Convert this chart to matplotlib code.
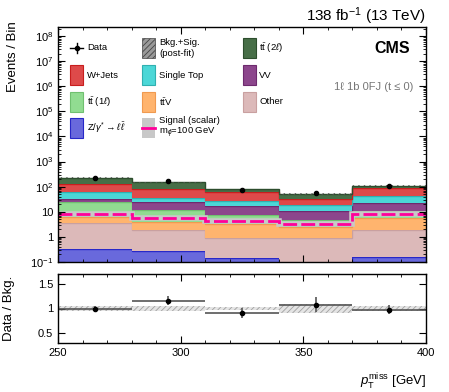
#!/usr/bin/env python3
# stacked pTmiss plot with data/bkg ratio panel

import numpy as np
import matplotlib
matplotlib.use("Agg")
import matplotlib.pyplot as plt
from matplotlib.patches import Rectangle
from matplotlib.lines import Line2D
from matplotlib.ticker import FixedLocator, LogLocator, MultipleLocator, FuncFormatter, NullFormatter

plt.rcParams['font.family'] = ['Liberation Sans', 'DejaVu Sans']
plt.rcParams['mathtext.fontset'] = 'custom'
plt.rcParams['mathtext.rm'] = 'Liberation Sans'
plt.rcParams['mathtext.it'] = 'Liberation Sans:italic'
plt.rcParams['mathtext.bf'] = 'Liberation Sans:bold'
plt.rcParams['hatch.linewidth'] = 0.6

bin_edges = [250, 280, 310, 340, 370, 400]

# backgrounds, bottom of the stack first
z_gamma = [0.32, 0.28, 0.14, 0.09, 0.16]
other = [3.38, 1.57, 0.75, 0.80, 1.74]
ttv = [2.6, 2.25, 2.5, 1.6, 4.0]
tt_1l = [17.3, 7.9, 4.2, 2.2, 4.4]
vv = [8.4, 11.6, 9.8, 5.6, 12.0]
single_top = [27.0, 13.4, 10.1, 8.7, 21.7]
w_jets = [70.0, 44.0, 31.5, 13.0, 45.0]
tt_2l = [94.0, 67.0, 22.0, 19.0, 21.0]

signal = [8.1, 5.6, 4.4, 3.2, 8.1]
data = [220, 171, 74, 55, 107]
# relative post-fit uncertainty
total_unc = [0.045, 0.045, 0.04, 0.085, 0.05]

stack = [
    (z_gamma, '#6969dc', '#2828c8'),
    (other, '#dcb9b9', '#c9a0a0'),
    (ttv, '#ffb46e', '#f09a50'),
    (tt_1l, '#91dc91', '#70c070'),
    (vv, '#8c468c', '#6e2a6e'),
    (single_top, '#4bd7d7', '#30b0b0'),
    (w_jets, '#de4a4a', '#c81e1e'),
    (tt_2l, '#476e47', '#2d4d2d'),
]

edges = np.array(bin_edges, dtype=float)
centers = 0.5 * (edges[1:] + edges[:-1])
half_w = 0.5 * (edges[1:] - edges[:-1])
data = np.array(data, dtype=float)
unc = np.array(total_unc)

fig = plt.figure(figsize=(4.49, 3.92), dpi=100)
ax1 = fig.add_axes([58/449, 130/392, 368/449, 235/392])
ax2 = fig.add_axes([58/449, 49/392, 368/449, 69/392])

lower = np.full(5, 1e-3)
for vals, face, edge in stack:
    upper = lower + np.array(vals)
    ax1.stairs(upper, edges, baseline=lower, fill=True, facecolor=face, edgecolor='none', lw=0)
    ax1.stairs(upper, edges, baseline=None, color=edge, lw=1.0)
    lower = upper
total = lower

ax1.stairs(total * (1 + unc), edges, baseline=total * (1 - unc), fill=True,
           facecolor='none', edgecolor='#555555', hatch='//////', lw=0)

ax1.stairs(signal, edges, baseline=None, color='#c8c8c8', lw=4)
ax1.stairs(signal, edges, baseline=None, color='#ff0099', lw=2, linestyle=(0, (5, 1.5)))

ax1.errorbar(centers, data, yerr=np.sqrt(data), fmt='o', color='k', ms=3,
             elinewidth=1, capsize=0, zorder=5)

ax1.set_yscale('log')
ax1.set_xlim(250, 400)
ax1.set_ylim(0.1, 2.3e8)


def log_fmt(v, pos):
    e = int(round(np.log10(v)))
    if e == 0:
        return '1'
    if e == 1:
        return '10'
    return r'$10^{%d}$' % e


ax1.yaxis.set_major_locator(FixedLocator(10.0 ** np.arange(-1, 9)))
ax1.yaxis.set_major_formatter(FuncFormatter(log_fmt))
ax1.yaxis.set_minor_locator(LogLocator(base=10, subs=np.arange(2, 10), numticks=30))
ax1.yaxis.set_minor_formatter(NullFormatter())
ax1.xaxis.set_major_locator(MultipleLocator(50))
ax1.xaxis.set_minor_locator(MultipleLocator(10))
ax1.tick_params(labelbottom=False)

# y title of the upper panel, top end just above the frame
fig.text(13/449, 1 - 21/392, 'Events / Bin', rotation=90, ha='center', va='top',
         fontsize=9.5)

# ratio panel
ratio = data / total
ratio_err = np.sqrt(data) / total
ax2.stairs(1 + unc, edges, baseline=1 - unc, fill=True, facecolor='#e4e4e4',
           edgecolor='#a0a0a0', hatch='//////', lw=0)
ax2.errorbar(centers, ratio, xerr=half_w, yerr=ratio_err, fmt='o', color='k',
             ecolor='#555555', ms=3, elinewidth=1.2, capsize=0)
ax2.set_xlim(250, 400)
ax2.set_ylim(0.3, 1.7)
ax2.yaxis.set_major_locator(FixedLocator([0.5, 1.0, 1.5]))
ax2.yaxis.set_major_formatter(FuncFormatter(lambda v, p: '%g' % v))
ax2.xaxis.set_major_locator(MultipleLocator(50))
ax2.xaxis.set_minor_locator(MultipleLocator(10))
ax2.set_ylabel('Data / Bkg.', fontsize=9.5)
ax2.yaxis.set_label_coords(-0.117, 0.5)
ax2.set_xlabel(r'$p_{\mathrm{T}}^{\mathrm{miss}}$ [GeV]', fontsize=9.5, loc='right')
ax2.xaxis.set_label_coords(1.0, -0.42)

for ax in (ax1, ax2):
    ax.tick_params(which='both', direction='in', top=True, right=True, labelsize=8)
    ax.tick_params(which='major', length=5, width=0.8)
    ax.tick_params(which='minor', length=2.5, width=0.6)
    for s in ax.spines.values():
        s.set_linewidth(1.0)

# texts
ax1.text(1.0, 1.026, r'138 fb$^{-1}$ (13 TeV)', transform=ax1.transAxes,
         ha='right', va='baseline', fontsize=11)
ax1.text(0.957, 0.91, 'CMS', transform=ax1.transAxes, ha='right', va='center',
         fontsize=11.5, fontweight='bold')
ax1.text(0.965, 0.746, '1ℓ 1b 0FJ (t ≤ 0)', transform=ax1.transAxes,
         ha='right', va='center', fontsize=8, color='#777777')

# legend, drawn by hand in three columns
col_x = [(70 - 58) / 368, (142 - 58) / 368, (243 - 58) / 368]
txt_x = [(87 - 58) / 368, (159 - 58) / 368, (259 - 58) / 368]
row_y = [(262 - py) / 235 for py in (48, 75, 102, 128)]
hw = 13 / 368
hh = 20 / 235
fs = 6.8


def box(c, r, **kw):
    ax1.add_patch(Rectangle((col_x[c], row_y[r] - hh / 2), hw, hh,
                            transform=ax1.transAxes, **kw))


def label(c, r, s, size=fs):
    ax1.text(txt_x[c], row_y[r], s, transform=ax1.transAxes, ha='left',
             va='center', fontsize=size, linespacing=1.2)


# data entry
ax1.add_line(Line2D([col_x[0], col_x[0] + hw], [row_y[0], row_y[0]],
                    transform=ax1.transAxes, color='k', lw=1))
ax1.add_line(Line2D([col_x[0] + hw / 2] * 2, [row_y[0] - 0.022, row_y[0] + 0.022],
                    transform=ax1.transAxes, color='k', lw=1))
ax1.plot([col_x[0] + hw / 2], [row_y[0]], 'o', color='k', ms=3, transform=ax1.transAxes)
label(0, 0, 'Data')

box(1, 0, facecolor='#9a9a9a', edgecolor='#444444', hatch='//////', lw=0.5)
label(1, 0, 'Bkg.+Sig.\n(post-fit)')

legend_boxes = [
    (2, 0, tt_2l, r't$\bar{\rm t}$ (2$\ell$)'),
    (0, 1, w_jets, 'W+Jets'),
    (1, 1, single_top, 'Single Top'),
    (2, 1, vv, 'VV'),
    (0, 2, tt_1l, r't$\bar{\rm t}$ (1$\ell$)'),
    (1, 2, ttv, r't$\bar{\rm t}$V'),
    (2, 2, other, 'Other'),
    (0, 3, z_gamma, r'Z/$\gamma^{*}\rightarrow\ell\,\bar{\ell}$'),
]
for c, r, vals, name in legend_boxes:
    face, edge = [(f, e) for v, f, e in stack if v is vals][0]
    box(c, r, facecolor=face, edgecolor=edge, lw=0.8)
    label(c, r, name)

box(1, 3, facecolor='#c8c8c8', edgecolor='none')
ax1.add_line(Line2D([col_x[1], col_x[1] + hw], [row_y[3], row_y[3]],
                    transform=ax1.transAxes, color='#ff0099', lw=2))
label(1, 3, 'Signal (scalar)\nm$_{\\phi}$=100 GeV')

fig.savefig('out.png', dpi=100)
